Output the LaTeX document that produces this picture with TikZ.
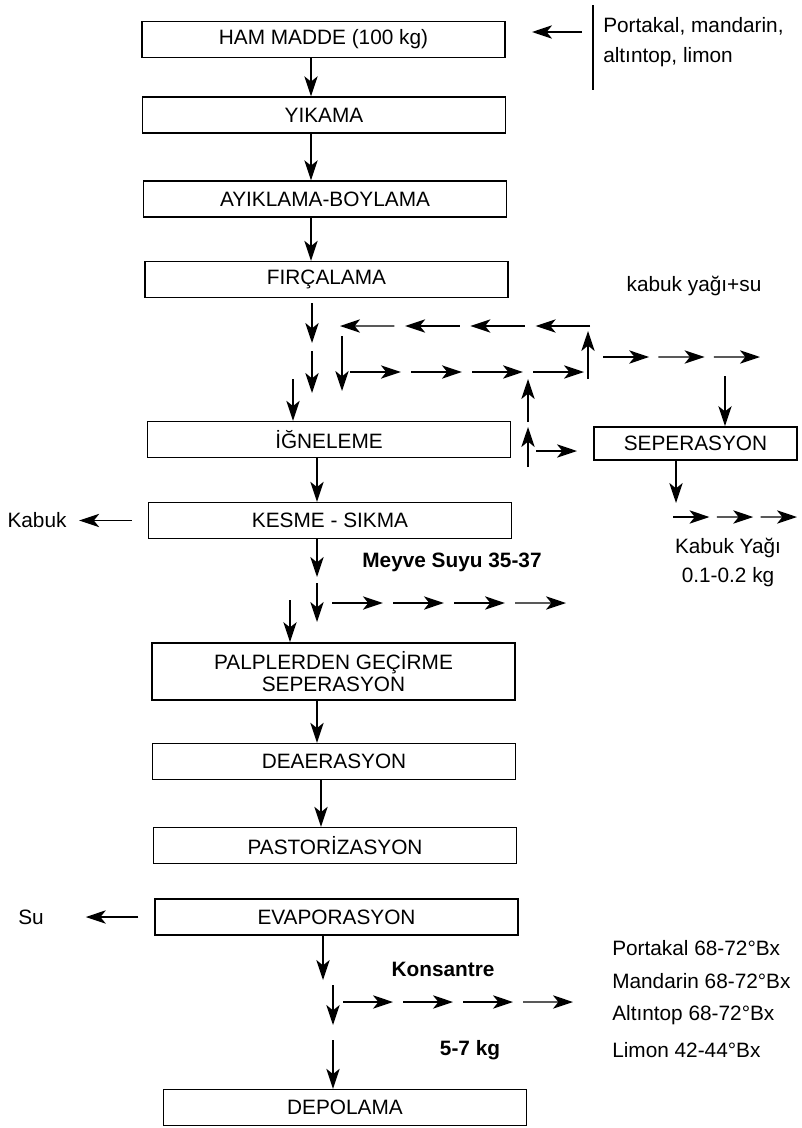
\documentclass[tikz,border=0pt]{standalone}
\usepackage{fontspec}
\setmainfont{Liberation Sans}
\usetikzlibrary{arrows.meta,calc}
\newcommand{\dashrow}[3]{%
  \foreach \seg [evaluate=\seg as \sa using (\seg-1)*1.2/(#3*1.2-0.2),
                 evaluate=\seg as \sb using ((\seg-1)*1.2+1)/(#3*1.2-0.2)] in {1,...,#3}
    \draw[arr] ($(#1)!\sa!(#2)$) -- ($(#1)!\sb!(#2)$);}
\begin{document}
\begin{tikzpicture}[x=0.75pt,y=-0.75pt,
  every node/.style={font=\fontsize{15.6}{18}\selectfont},
  box/.style={draw,line width=1.1pt,minimum width=272pt,minimum height=27pt,inner sep=2pt},
  arr/.style={line width=1.1pt,-{Stealth[length=15pt,width=10pt,inset=4pt]}}]
\useasboundingbox (0,0) rectangle (801,1128);
    \node[box] (ham) at (323.5,39.5) {HAM MADDE (100 kg)};
    \node[box] (yik) at (324,115) {YIKAMA};
    \node[box] (ayik) at (325,199) {AYIKLAMA-BOYLAMA};
    \node[box] (fir) at (326.5,279.5) {FIRÇALAMA};
    \node[box] (ign) at (329,439.5) {İĞNELEME};
    \node[box] (kes) at (330,520.5) {KESME - SIKMA};
    \node[box,minimum height=43pt,align=center,font=\fontsize{15.6}{16.5}\selectfont] (palp) at (333.5,671.5) {PALPLERDEN GEÇİRME\\SEPERASYON};
    \node[box] (deae) at (334,761.5) {DEAERASYON};
    \node[box] (past) at (335,845.5) {PASTORİZASYON};
    \node[box] (evap) at (336.5,917) {EVAPORASYON};
    \node[box] (depo) at (345,1107.5) {DEPOLAMA};
    \node[box,minimum width=152pt,minimum height=25pt] (sep) at (695.5,443.5) {SEPERASYON};

    \node[anchor=west,inner sep=0,align=left,font=\fontsize{15.6}{22.5}\selectfont] (src) at (603,42) {Portakal, mandarin,\\altıntop, limon};
    \node (suf) at (694,286) {kabuk yağı+su};
    \node (kabuk) at (37,520.5) {Kabuk};
    \node (meyve) at (452,562) {\bfseries Meyve Suyu 35-37};
    \node[align=center,font=\fontsize{15.6}{21.75}\selectfont] (oil) at (728,562) {Kabuk Yağı\\0.1-0.2 kg};
    \node (su) at (31,917) {Su};
    \node (kons) at (443,969) {\bfseries Konsantre};
    \node (kg) at (470,1050) {\bfseries 5-7 kg};
    \node[anchor=west,inner sep=0] (bx1) at (612,948) {Portakal 68-72°Bx};
    \node[anchor=west,inner sep=0] (bx2) at (612,981) {Mandarin 68-72°Bx};
    \node[anchor=west,inner sep=0] (bx3) at (612,1015) {Altıntop 68-72°Bx};
    \node[anchor=west,inner sep=0] (bx4) at (612,1050) {Limon 42-44°Bx};

    \coordinate (bar1) at (593,5);
    \coordinate (bar2) at (593,90);
    \coordinate (in1) at (582,32);
    \coordinate (in2) at (532,32);
    \draw[line width=1.2pt] (bar1) -- (bar2);
    \draw[arr] (in1) -- (in2);

    \coordinate (c1) at (311,0);
    \coordinate (c2) at (317,0);
    \coordinate (c3) at (321,0);
    \draw[arr] (ham.south -| c1) -- (yik.north -| c1);
    \draw[arr] (yik.south -| c1) -- (ayik.north -| c1);
    \draw[arr] (ayik.south -| c1) -- (fir.north -| c1);

    \coordinate (d1) at (312,303);
    \coordinate (d2) at (312,343);
    \coordinate (d3) at (312,351);
    \coordinate (d4) at (312,393);
    \coordinate (d5) at (293,379);
    \draw[arr] (d1) -- (d2);
    \draw[arr] (d3) -- (d4);
    \draw[arr] (d5) -- (d5 |- ign.north);

    \coordinate (lt1) at (590,326);
    \coordinate (lt2) at (340,326);
    \coordinate (lv1) at (342,336);
    \coordinate (lv2) at (342,391);
    \coordinate (lb1) at (350,372);
    \coordinate (lb2) at (584,372);
    \coordinate (rv1) at (588,379);
    \coordinate (rv2) at (588,331);
    \coordinate (rr1) at (603,357);
    \coordinate (rr2) at (760,357);
    \coordinate (sv) at (725,376);
    \dashrow{lt1}{lt2}{4}
    \draw[arr] (lv1) -- (lv2);
    \dashrow{lb1}{lb2}{4}
    \draw[arr] (rv1) -- (rv2);
    \dashrow{rr1}{rr2}{3}
    \draw[arr] (sv) -- (sv |- sep.north);

    \coordinate (u1) at (528,467);
    \coordinate (u2) at (528,427);
    \coordinate (u3) at (528,422);
    \coordinate (u4) at (528,379);
    \coordinate (u5) at (536,451);
    \coordinate (u6) at (577,451);
    \draw[arr] (u1) -- (u2);
    \draw[arr] (u3) -- (u4);
    \draw[arr] (u5) -- (u6);

    \coordinate (s1) at (676,503);
    \coordinate (o1) at (673,517);
    \coordinate (o2) at (797,517);
    \draw[arr] (sep.south -| s1) -- (s1);
    \dashrow{o1}{o2}{3}

    \draw[arr] ([xshift=-12pt]kes.west) -- ([xshift=6pt]kabuk.east);
    \draw[arr] ([xshift=-12pt]evap.west) -- ([xshift=28pt]su.east);

    \coordinate (k1) at (317,577);
    \coordinate (k2) at (317,583);
    \coordinate (k3) at (317,622);
    \coordinate (k4) at (290,600);
    \coordinate (m1) at (332,603);
    \coordinate (m2) at (566,603);
    \draw[arr] (ign.south -| c2) -- (kes.north -| c2);
    \draw[arr] (kes.south -| c2) -- (k1);
    \draw[arr] (k2) -- (k3);
    \draw[arr] (k4) -- (k4 |- palp.north);
    \dashrow{m1}{m2}{4}

    \draw[arr] (palp.south -| c2) -- (deae.north -| c2);
    \draw[arr] (deae.south -| c3) -- (past.north -| c3);

    \coordinate (e1) at (323,980);
    \coordinate (e2) at (333,985);
    \coordinate (e3) at (333,1025);
    \coordinate (e4) at (333,1040);
    \coordinate (f1) at (343,1002);
    \coordinate (f2) at (573,1002);
    \draw[arr] (evap.south -| e1) -- (e1);
    \draw[arr] (e2) -- (e3);
    \draw[arr] (e4) -- (e4 |- depo.north);
    \dashrow{f1}{f2}{4}
\end{tikzpicture}
\end{document}
